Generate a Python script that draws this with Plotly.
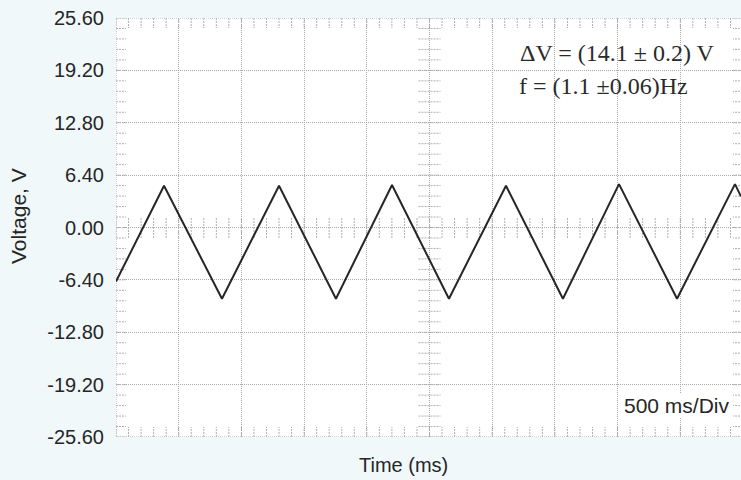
import plotly.graph_objects as go
import numpy as np

# ---- data ----
time_ms = [0, 383, 845, 1300, 1754, 2201, 2655, 3110, 3564, 4011, 4474, 4936, 4984]
voltage = [-6.6, 5.1, -8.7, 5.1, -8.7, 5.2, -8.7, 5.1, -8.7, 5.3, -8.7, 5.3, 3.8]
y_ticks = [-25.6, -19.2, -12.8, -6.4, 0.0, 6.4, 12.8, 19.2, 25.6]
y_tick_text = ["%.2f" % v for v in y_ticks]
x_div_ms = 500
n_xdiv = 10
annot_dv = "ΔV = (14.1 ± 0.2) V"
annot_f = "f = (1.1 ±0.06)Hz"
annot_div = "500 ms/Div"

# ---- layout geometry ----
W, H = 741, 480
L, T, B, R = 116, 18, 43, 0
pw = W - L - R
ph = H - T - B
div_px = 62.7
x_max = pw / div_px * x_div_ms
x_full = n_xdiv * x_div_ms
y_min, y_max = -25.6, 25.6
px_per_v = ph / (y_max - y_min)

def px_x(px):
    return (px - L) / div_px * x_div_ms

def px_y(py):
    return (T + ph / 2 - py) / px_per_v

grid_col = "#a9a9a9"
grid_dash = "1px,1px"

# tick decoration segments (oscilloscope style)
tx, ty = [], []
hx = 10 / div_px * x_div_ms   # 10 px in ms
hy = 10 / px_per_v            # 10 px in V
minor_x = np.arange(0, x_full + 1, x_div_ms / 5)
minor_y = np.arange(y_min, y_max + 0.001, 6.4 / 5)
for xv in minor_x:
    for (a, b) in [(y_max, y_max - hy), (y_min, y_min + hy), (-1.05 * hy, 1.05 * hy)]:
        tx += [xv, xv, None]
        ty += [a, b, None]
for yv in minor_y:
    for (a, b) in [(0, hx), (x_full, x_full - hx), (x_full / 2 - 1.1 * hx, x_full / 2 + 1.1 * hx)]:
        tx += [a, b, None]
        ty += [yv, yv, None]

fig = go.Figure()
fig.add_trace(go.Scatter(x=tx, y=ty, mode="lines",
                         line=dict(color="#b0b0b0", width=1, dash="2px,1px"),
                         hoverinfo="skip", showlegend=False))
fig.add_trace(go.Scatter(x=time_ms, y=voltage, mode="lines",
                         line=dict(color="#262626", width=2),
                         showlegend=False))

# border (dotted like grid)
fig.add_shape(type="rect", xref="x", yref="y", x0=0, x1=x_full, y0=y_min, y1=y_max,
              line=dict(color=grid_col, width=1, dash=grid_dash), layer="below")

fig.update_xaxes(range=[0, x_max], dtick=x_div_ms, tick0=0, showgrid=True,
                 gridcolor=grid_col, griddash=grid_dash, gridwidth=1,
                 showticklabels=False, ticks="", zeroline=False, showline=False,
                 fixedrange=True)
fig.update_yaxes(range=[y_min, y_max], tickvals=y_ticks, ticktext=y_tick_text,
                 showgrid=True, gridcolor=grid_col, griddash=grid_dash, gridwidth=1,
                 zeroline=False, showline=False, ticks="",
                 tickfont=dict(family="Liberation Sans, Arial", size=20, color="#262626"),
                 ticklabelstandoff=11, fixedrange=True)

fig.add_annotation(x=px_x(519), y=px_y(53), xref="x", yref="y", text=annot_dv,
                   showarrow=False, xanchor="left", yanchor="middle", borderpad=0,
                   font=dict(family="Liberation Serif, Times New Roman", size=24, color="#2a2a2a"))
fig.add_annotation(x=px_x(518), y=px_y(86), xref="x", yref="y", text=annot_f,
                   showarrow=False, xanchor="left", yanchor="middle", borderpad=0,
                   font=dict(family="Liberation Serif, Times New Roman", size=24, color="#2a2a2a"))
fig.add_annotation(x=px_x(731), y=px_y(405), xref="x", yref="y", text=annot_div,
                   showarrow=False, xanchor="right", yanchor="middle", bgcolor="#ffffff",
                   borderpad=0,
                   font=dict(family="Liberation Sans, Arial", size=21, color="#262626"))

# axis titles placed as annotations (pixel positioned)
fig.add_annotation(x=(18 - L) / pw, y=(H - B - 216) / ph, xref="paper", yref="paper",
                   text="Voltage, V", textangle=-90, showarrow=False,
                   xanchor="center", yanchor="middle",
                   font=dict(family="Liberation Sans, Arial", size=21, color="#262626"))
fig.add_annotation(x=(403 - L) / pw, y=-(465 - (H - B)) / ph, xref="paper", yref="paper",
                   text="Time (ms)", showarrow=False, xanchor="center", yanchor="middle",
                   font=dict(family="Liberation Sans, Arial", size=20, color="#262626"))

fig.update_layout(width=W, height=H, margin=dict(l=L, r=R, t=T, b=B, pad=0),
                  paper_bgcolor="#f1f8fa", plot_bgcolor="#ffffff",
                  showlegend=False)

fig.write_html("out.html", config={"displayModeBar": False})
